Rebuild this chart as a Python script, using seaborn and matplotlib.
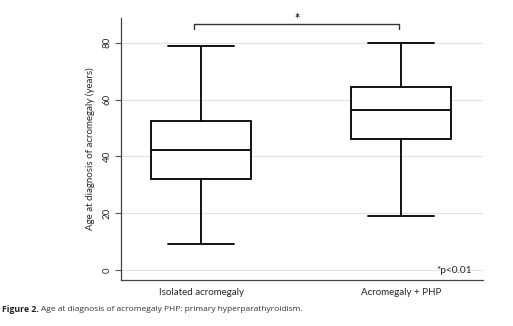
import matplotlib
matplotlib.use("Agg")
import matplotlib.pyplot as plt
import seaborn as sns
import pandas as pd

# Five-number summaries (min, q1, median, q3, max)
groups = ["Isolated acromegaly", "Acromegaly + PHP"]
isolated_vals = [9.0, 32.2, 42.3, 52.6, 79.0]
php_vals = [19.0, 46.1, 56.4, 64.5, 80.0]
yticks = [0, 20, 40, 60, 80]

df = pd.DataFrame({
    "group": [groups[0]] * len(isolated_vals) + [groups[1]] * len(php_vals),
    "age": isolated_vals + php_vals,
})

sns.set_theme(style="white")
plt.rcParams["font.family"] = ["Lato", "DejaVu Sans"]

fig = plt.figure(figsize=(5.13, 3.26), dpi=100)
ax = fig.add_axes([0.236, 0.141, 0.7055, 0.804])

line = dict(color="black", linewidth=1.3)
sns.boxplot(data=df, x="group", y="age", order=groups, ax=ax, width=0.5,
            whis=(0, 100), color="white", fill=True, linecolor="black",
            linewidth=1.3, capwidths=0.33,
            boxprops=dict(facecolor="white", edgecolor="black", linewidth=1.3),
            medianprops=line, whiskerprops=line, capprops=line)

ax.set_xlim(-0.4, 1.41)
ax.set_ylim(-3.5, 88.7)
ax.set_yticks(yticks)
ax.set_yticklabels([str(t) for t in yticks], rotation=90, va="center", fontsize=7)
ax.yaxis.grid(True, color="#e3e3e3", linewidth=0.9)
ax.set_axisbelow(True)
ax.tick_params(axis="y", left=True, length=4, width=0.8, color="#555555", pad=3)
ax.tick_params(axis="x", bottom=False, labelsize=7, pad=0)
ax.set_xlabel("")
ax.set_ylabel("Age at diagnosis of acromegaly (years)", fontsize=7, labelpad=5)
for s in ["top", "right"]:
    ax.spines[s].set_visible(False)
for s in ["left", "bottom"]:
    ax.spines[s].set_color("#444444")
    ax.spines[s].set_linewidth(0.9)

# significance bracket
ax.plot([-0.035, -0.035, 0.99, 0.99], [84.7, 86.5, 86.5, 84.7], color="#333333", lw=1.0,
        clip_on=False)
ax.text(0.48, 88.4, "*", ha="center", va="center", fontsize=9, fontweight="bold",
        clip_on=False)
ax.text(1.265, -0.2, "*p<0.01", ha="center", va="center", fontsize=7.3)

fig.text(0.004, 0.052, "Figure 2.", fontsize=6.3, fontweight="bold", color="#222222",
         family=["Open Sans", "DejaVu Sans"], va="center")
fig.text(0.080, 0.052, "Age at diagnosis of acromegaly PHP: primary hyperparathyroidism.",
         fontsize=6.0, color="#333333", family=["Open Sans", "DejaVu Sans"], va="center")

fig.savefig("out.png", dpi=100)
